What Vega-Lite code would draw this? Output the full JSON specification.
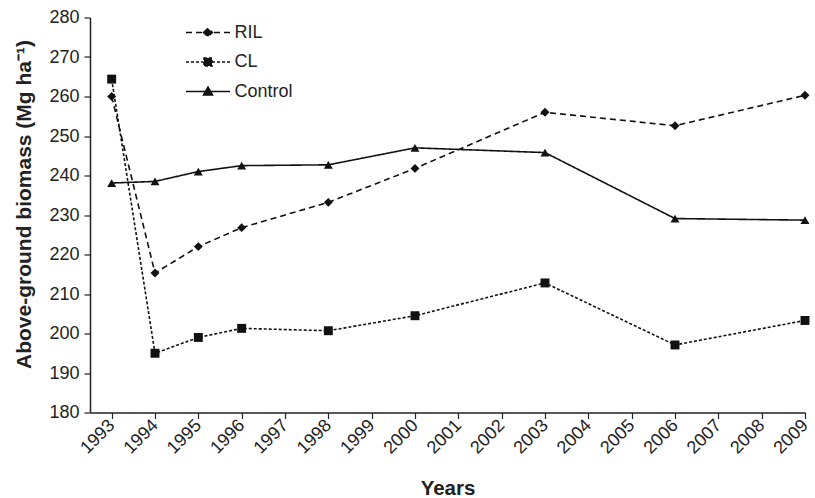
{
  "$schema": "https://vega.github.io/schema/vega-lite/v6.json",
  "width": 715,
  "height": 395,
  "autosize": "none",
  "padding": {"left": 90, "top": 17.5, "right": 10, "bottom": 85.5},
  "background": "white",
  "config": {
    "view": {"stroke": null},
    "font": "Liberation Sans",
    "axis": {
      "grid": false,
      "domainColor": "#222",
      "domainWidth": 1.5,
      "tickColor": "#222",
      "tickWidth": 1.2,
      "tickSize": 6,
      "labelColor": "#222",
      "labelFontSize": 18,
      "labelFont": "Liberation Sans",
      "titleFont": "Liberation Sans",
      "titleFontSize": 20.5,
      "titleFontWeight": "bold",
      "titleColor": "#222"
    }
  },
  "data": {
    "values": [
      {"year": 1993, "series": "RIL", "value": 260.0},
      {"year": 1994, "series": "RIL", "value": 215.3},
      {"year": 1995, "series": "RIL", "value": 222.0},
      {"year": 1996, "series": "RIL", "value": 226.8},
      {"year": 1998, "series": "RIL", "value": 233.2},
      {"year": 2000, "series": "RIL", "value": 241.8},
      {"year": 2003, "series": "RIL", "value": 256.0},
      {"year": 2006, "series": "RIL", "value": 252.6},
      {"year": 2009, "series": "RIL", "value": 260.3},
      {"year": 1993, "series": "CL", "value": 264.4},
      {"year": 1994, "series": "CL", "value": 195.0},
      {"year": 1995, "series": "CL", "value": 199.0},
      {"year": 1996, "series": "CL", "value": 201.3},
      {"year": 1998, "series": "CL", "value": 200.7},
      {"year": 2000, "series": "CL", "value": 204.5},
      {"year": 2003, "series": "CL", "value": 212.8},
      {"year": 2006, "series": "CL", "value": 197.1},
      {"year": 2009, "series": "CL", "value": 203.3},
      {"year": 1993, "series": "Control", "value": 238.1},
      {"year": 1994, "series": "Control", "value": 238.5},
      {"year": 1995, "series": "Control", "value": 241.0},
      {"year": 1996, "series": "Control", "value": 242.5},
      {"year": 1998, "series": "Control", "value": 242.7},
      {"year": 2000, "series": "Control", "value": 247.0},
      {"year": 2003, "series": "Control", "value": 245.8},
      {"year": 2006, "series": "Control", "value": 229.1},
      {"year": 2009, "series": "Control", "value": 228.7}
    ]
  },
  "encoding": {
    "x": {
      "field": "year",
      "type": "quantitative",
      "scale": {"domain": [1992.5, 2009], "nice": false, "zero": false},
      "axis": {
        "title": "Years",
        "values": [1993,1994,1995,1996,1997,1998,1999,2000,2001,2002,2003,2004,2005,2006,2007,2008,2009],
        "format": "d",
        "labelAngle": -45,
        "labelAlign": "right",
        "labelBaseline": "middle",
        "labelPadding": 4,
        "titlePadding": 21
      }
    },
    "y": {
      "field": "value",
      "type": "quantitative",
      "scale": {"domain": [180, 280], "nice": false, "zero": false},
      "axis": {
        "title": "Above-ground biomass (Mg ha⁻¹)",
        "titleFontSize": 21,
        "titleY": 186.5,
        "values": [180,190,200,210,220,230,240,250,260,270,280],
        "labelPadding": 5,
        "titlePadding": 14
      }
    }
  },
  "layer": [
    {
      "mark": {"type": "line", "strokeWidth": 1.6},
      "encoding": {
        "detail": {"field": "series"},
        "strokeDash": {
          "field": "series",
          "type": "nominal",
          "scale": {"domain": ["RIL", "CL", "Control"], "range": [[6, 4], [3, 2], [1, 0]]},
          "legend": null
        },
        "color": {
          "field": "series",
          "type": "nominal",
          "scale": {"domain": ["RIL", "CL", "Control"], "range": ["#111", "#111", "#111"]},
          "legend": {
            "title": null,
            "orient": "none",
            "legendX": 109,
            "legendY": 6,
            "padding": 0,
            "symbolSize": 100,
            "symbolStrokeWidth": 1.5,
            "labelFontSize": 18,
            "labelColor": "#222",
            "labelOffset": 17.5,
            "rowPadding": 11.5,
            "encode": {
              "symbols": {
                "update": {
                  "shape": {"signal": "datum.value === 'RIL' ? 'M-4.4,0L-3.2,0M-2.4,0L-1.2,0M1.2,0L2.4,0M3.2,0L4.4,0M-0.9,0L0,-0.85L0.9,0L0,0.85Z' : datum.value === 'CL' ? 'M-4.4,0L-3.8,0M-3.4,0L-2.8,0M-2.4,0L-1.8,0M-1.4,0L-0.9,0M0.9,0L1.4,0M1.8,0L2.4,0M2.8,0L3.4,0M3.8,0L4.4,0M-0.8,-0.8L0.8,-0.8L0.8,0.8L-0.8,0.8Z' : 'M-4.4,0L4.4,0M-0.9,0.7L0,-0.9L0.9,0.7Z'"},
                  "fill": {"value": "#111"},
                  "stroke": {"value": "#111"},
                  "strokeWidth": {"value": 1.5}
                }
              }
            }
          }
        }
      }
    },
    {
      "mark": {"type": "point", "filled": true, "color": "#111", "opacity": 1, "size": 80},
      "encoding": {
        "shape": {
          "field": "series",
          "type": "nominal",
          "scale": {"domain": ["RIL", "CL", "Control"], "range": ["diamond", "square", "triangle-up"]},
          "legend": null
        }
      }
    }
  ],
  "resolve": {"legend": {"shape": "independent", "strokeDash": "independent", "color": "independent"}}
}
